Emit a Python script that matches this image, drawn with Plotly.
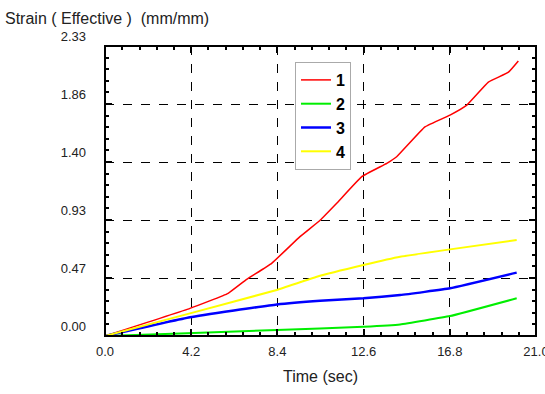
import plotly.graph_objects as go

# Data
t1 = [0.0, 4.14, 6.0, 6.9, 8.12, 9.5, 10.48, 11.29, 12.51, 13.73, 14.21, 15.59, 16.81, 17.63, 18.68, 19.66, 20.14]
v1 = [0.0, 0.222, 0.343, 0.455, 0.584, 0.798, 0.93, 1.066, 1.28, 1.387, 1.44, 1.68, 1.775, 1.855, 2.04, 2.12, 2.21]

t2 = [0.0, 3.65, 8.37, 12.59, 14.38, 16.81, 20.06]
v2 = [0.0, 0.02, 0.048, 0.075, 0.093, 0.16, 0.303]

t3 = [0.0, 4.14, 8.37, 10.48, 12.59, 14.38, 16.81, 20.06]
v3 = [0.0, 0.15, 0.254, 0.284, 0.303, 0.329, 0.383, 0.509]

t4 = [0.0, 4.14, 8.37, 10.32, 12.59, 14.38, 16.81, 20.06]
v4 = [0.0, 0.182, 0.37, 0.476, 0.57, 0.637, 0.696, 0.771]

names = ["1", "2", "3", "4"]
colors = ["#ff0000", "#00ee00", "#0000ff", "#ffff00"]
widths = [1.5, 2, 2.5, 2]

x_ticks = [0.0, 4.2, 8.4, 12.6, 16.8, 21.0]
x_labels = ["0.0", "4.2", "8.4", "12.6", "16.8", "21.0"]
y_ticks = [0.0, 0.466, 0.932, 1.398, 1.864, 2.33]
y_labels = ["0.00", "0.47", "0.93", "1.40", "1.86", "2.33"]

W, H = 545, 394
ML, MR, MT, MB = 105, 9, 46, 58
PW, PH = W - ML - MR, H - MT - MB
XR = [-0.001, 21.001]
YR = [0, 2.33]

fig = go.Figure()
for t, v, n, c, w in zip([t1, t2, t3, t4], [v1, v2, v3, v4], names, colors, widths):
    fig.add_trace(go.Scatter(x=t, y=v, mode="lines", name=n,
                             line=dict(color=c, width=w, shape="spline", smoothing=0.3)))

font = "Liberation Sans, Arial, sans-serif"
tick_common = dict(
    ticks="inside", ticklen=7, tickwidth=2, tickcolor="black",
    zeroline=False, automargin=False,
)
fig.update_layout(
    xaxis=dict(range=XR, tickmode="array", tickvals=x_ticks, ticktext=x_labels,
               minor=dict(ticks="inside", ticklen=4, tickcolor="black", dtick=0.84, tick0=0, showgrid=False),
               showgrid=True, gridcolor="black", griddash="dash", gridwidth=1,
               tickfont=dict(family=font, size=13, color="#222"), ticklabelstandoff=6,
               ticklabeloverflow="allow",
               title=dict(text="Time (sec)", font=dict(family=font, size=16, color="#222"), standoff=12),
               **tick_common),
    yaxis=dict(range=YR, tickmode="array", tickvals=y_ticks, ticktext=y_labels,
               minor=dict(ticks="inside", ticklen=4, tickcolor="black", dtick=0.0932, tick0=0, showgrid=False),
               showgrid=True, gridcolor="black", griddash="dash", gridwidth=1,
               tickfont=dict(family=font, size=13, color="#222"),
               ticklabelshift=-10, ticklabelstandoff=18, ticklabeloverflow="allow",
               **tick_common),
    xaxis2=dict(range=XR, overlaying="x", side="top", tickmode="array", tickvals=x_ticks,
                showticklabels=False, showgrid=False, matches="x",
                minor=dict(ticks="inside", ticklen=4, tickcolor="black", dtick=0.84, tick0=0, showgrid=False),
                **tick_common),
    yaxis2=dict(range=YR, overlaying="y", side="right", tickmode="array", tickvals=y_ticks,
                showticklabels=False, showgrid=False, matches="y",
                minor=dict(ticks="inside", ticklen=4, tickcolor="black", dtick=0.0932, tick0=0, showgrid=False),
                **tick_common),
)
# invisible trace to activate the mirrored axes
fig.add_trace(go.Scatter(x=[t1[0]], y=[v1[0]], xaxis="x2", yaxis="y2", mode="markers",
                         marker=dict(opacity=0), showlegend=False, hoverinfo="skip"))

# plot frame
fig.add_shape(type="rect", xref="paper", yref="paper", x0=0, y0=0, x1=1, y1=1,
              line=dict(color="black", width=2), layer="above")

fig.add_annotation(text="Strain ( Effective )  (mm/mm)", xref="paper", yref="paper",
                   x=(3 - ML) / PW, y=(H - MB - 18) / PH, xanchor="left", yanchor="middle",
                   showarrow=False, font=dict(family=font, size=16, color="#222"))

fig.update_layout(
    width=W, height=H, margin=dict(l=ML, r=MR, t=MT, b=MB, autoexpand=False),
    paper_bgcolor="white", plot_bgcolor="white",
    showlegend=True,
    legend=dict(x=(295 - ML) / PW, y=(H - MB - 62) / PH, xanchor="left", yanchor="top",
                bgcolor="white", bordercolor="#aaa", borderwidth=1,
                font=dict(family=font, size=16, color="black", weight="bold"),
                itemwidth=30, tracegroupgap=0),
)
fig.write_html("out.html", config={"displayModeBar": False},
               post_script="document.body.style.margin='0px';")
